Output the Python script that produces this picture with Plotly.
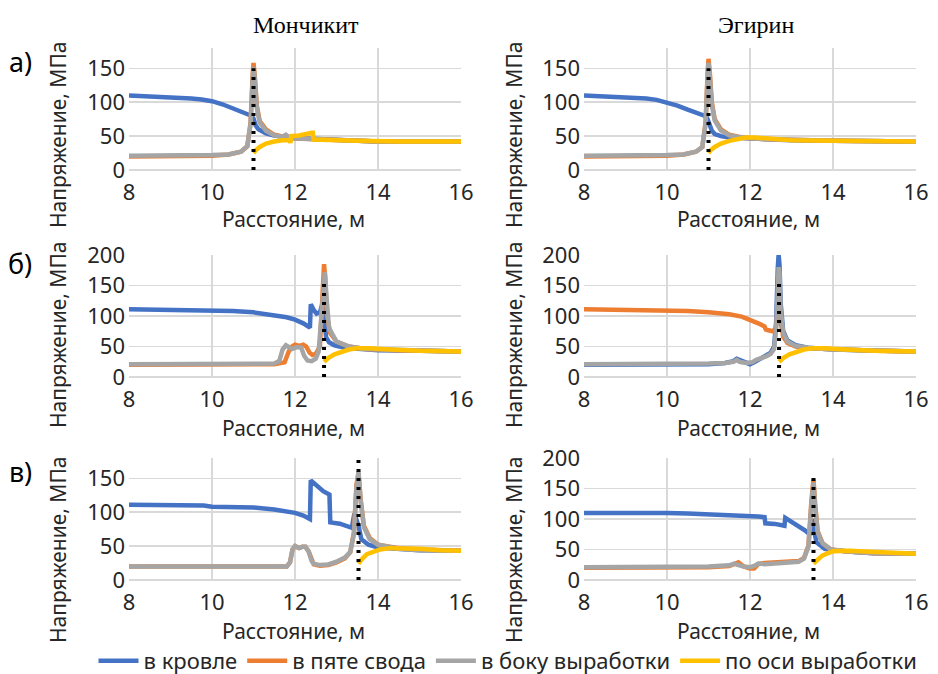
import plotly.graph_objects as go

W, H = 938, 674

SERIES = ["в кровле", "в пяте свода", "в боку выработки", "по оси выработки"]
COLORS = ["#4472C4", "#ED7D31", "#A5A5A5", "#FFC000"]
COL_TITLES = ["Мончикит", "Эгирин"]
ROW_LABELS = ["а)", "б)", "в)"]
X_TITLE = "Расстояние, м"
Y_TITLE = "Напряжение, МПа"
X_TICKS = [8, 10, 12, 14, 16]

# ---------------- row а), Мончикит ----------------
A_MON_BLUE_X = [8, 8.5, 9, 9.5, 9.75, 10.0, 10.25, 10.5, 10.75, 10.95, 11.0, 11.05, 11.12, 11.3, 11.5, 11.7, 12.0, 12.4, 12.9, 13.5, 14, 15, 16]
A_MON_BLUE_Y = [110, 109, 107.5, 105.5, 104, 101.5, 97, 91, 85, 80, 76, 66, 60, 54, 51, 49, 47, 46, 45, 43, 42, 42, 42]
A_MON_ORANGE_X = [8, 9, 10, 10.4, 10.7, 10.85, 10.93, 10.98, 11.0, 11.03, 11.08, 11.15, 11.3, 11.5, 11.8, 12.2, 13, 14, 16]
A_MON_ORANGE_Y = [20, 20, 21, 23, 27, 35, 70, 140, 158, 140, 95, 72, 60, 52, 48, 46, 44, 42, 42]
A_MON_GRAY_X = [8, 9, 10, 10.4, 10.7, 10.85, 10.93, 10.98, 11.0, 11.03, 11.08, 11.15, 11.3, 11.5, 11.7, 11.78, 11.88, 12.2, 13, 14, 16]
A_MON_GRAY_Y = [21, 21, 22, 23, 27, 35, 68, 135, 152, 135, 92, 70, 58, 51, 49, 52, 47, 46, 44, 42, 42]
A_MON_YELLOW_X = [11.0, 11.05, 11.15, 11.3, 11.5, 11.7, 11.87, 11.89, 11.91, 12.1, 12.4, 12.43, 12.45, 12.8, 13.5, 14.5, 16]
A_MON_YELLOW_Y = [25, 29, 34, 39, 42, 44, 44, 40, 50, 51, 55, 55, 45, 44, 43, 42, 42]

# ---------------- row а), Эгирин ----------------
A_EGI_BLUE_X = [8, 8.5, 9, 9.5, 9.75, 10.0, 10.25, 10.5, 10.75, 10.95, 11.02, 11.08, 11.15, 11.3, 11.5, 11.8, 12.2, 13, 14, 16]
A_EGI_BLUE_Y = [110, 109, 107.5, 105.5, 103.5, 100, 95, 89, 83, 79, 68, 58, 53, 50, 48, 47, 46, 44, 43, 42]
A_EGI_ORANGE_X = [8, 9, 10, 10.4, 10.7, 10.85, 10.93, 10.98, 11.0, 11.03, 11.08, 11.15, 11.3, 11.5, 11.8, 12.2, 13, 14, 16]
A_EGI_ORANGE_Y = [20, 20, 21, 23, 27, 34, 70, 145, 164, 145, 100, 75, 60, 52, 48, 46, 44, 43, 42]
A_EGI_GRAY_X = [8, 9, 10, 10.4, 10.7, 10.85, 10.93, 10.98, 11.0, 11.03, 11.08, 11.15, 11.3, 11.5, 11.8, 12.2, 13, 14, 16]
A_EGI_GRAY_Y = [21, 21, 22, 23, 27, 34, 68, 140, 158, 140, 96, 73, 58, 51, 48, 46, 44, 43, 42]
A_EGI_YELLOW_X = [11.0, 11.05, 11.15, 11.3, 11.5, 11.7, 11.9, 12.1, 12.5, 13, 14, 16]
A_EGI_YELLOW_Y = [25, 29, 34, 39, 43, 46, 48, 48, 46, 44, 43, 42]

# ---------------- row б), Мончикит ----------------
B_MON_BLUE_X = [8, 9, 10, 10.5, 11, 11.5, 11.8, 12.0, 12.2, 12.36, 12.38, 12.45, 12.52, 12.6, 12.66, 12.7, 12.75, 12.82, 12.95, 13.2, 13.6, 14, 15, 16]
B_MON_BLUE_Y = [111, 110, 109, 108, 106, 102, 98, 94, 88, 81, 119, 110, 104, 106, 120, 100, 65, 57, 52, 48, 46, 44, 43, 42]
B_MON_ORANGE_X = [8, 9, 10, 11, 11.5, 11.75, 11.85, 11.93, 12.0, 12.1, 12.2, 12.27, 12.35, 12.42, 12.5, 12.6, 12.65, 12.7, 12.73, 12.77, 12.85, 13.0, 13.3, 13.7, 14.5, 16]
B_MON_ORANGE_Y = [20, 20, 20, 20, 21, 24, 42, 50, 53, 51, 53, 50, 40, 36, 38, 50, 120, 185, 160, 100, 72, 58, 50, 46, 44, 42]
B_MON_GRAY_X = [8, 9, 10, 11, 11.5, 11.62, 11.7, 11.78, 11.85, 11.93, 12.05, 12.15, 12.22, 12.3, 12.4, 12.5, 12.57, 12.63, 12.68, 12.72, 12.76, 12.82, 13.0, 13.3, 13.7, 14.5, 16]
B_MON_GRAY_Y = [21, 21, 21, 21, 22, 26, 45, 52, 50, 46, 49, 48, 35, 27, 26, 30, 42, 90, 150, 172, 130, 80, 58, 50, 46, 44, 42]
B_MON_YELLOW_X = [12.7, 12.8, 12.95, 13.1, 13.3, 13.5, 13.8, 14.3, 15, 16]
B_MON_YELLOW_Y = [25, 31, 37, 41, 45, 47, 47, 45, 43, 42]

# ---------------- row б), Эгирин ----------------
B_EGI_BLUE_X = [8, 9, 10, 11, 11.4, 11.6, 11.68, 11.75, 11.85, 12.0, 12.1, 12.25, 12.4, 12.5, 12.58, 12.63, 12.67, 12.69, 12.71, 12.74, 12.8, 12.9, 13.1, 13.4, 14, 15, 16]
B_EGI_BLUE_Y = [20, 20, 20, 21, 23, 26, 30, 28, 27, 21, 24, 30, 35, 40, 50, 90, 180, 200, 185, 120, 75, 60, 52, 48, 45, 43, 42]
B_EGI_ORANGE_X = [8, 9, 9.5, 10, 10.5, 11, 11.5, 11.8, 12.0, 12.2, 12.35, 12.38, 12.42, 12.55, 12.62, 12.66, 12.7, 12.74, 12.8, 12.9, 13.1, 13.4, 14, 15, 16]
B_EGI_ORANGE_Y = [111, 110, 110, 109, 108, 106, 103, 99, 94, 88, 83, 78, 77, 75, 80, 100, 120, 90, 66, 56, 50, 47, 45, 43, 42]
B_EGI_GRAY_X = [8, 9, 10, 11, 11.4, 11.6, 11.68, 11.75, 11.9, 12.05, 12.15, 12.25, 12.4, 12.5, 12.58, 12.63, 12.67, 12.69, 12.71, 12.74, 12.8, 12.9, 13.1, 13.4, 14, 15, 16]
B_EGI_GRAY_Y = [21, 21, 21, 22, 23, 25, 28, 25, 23, 24, 28, 30, 34, 38, 46, 80, 160, 180, 170, 110, 72, 58, 51, 48, 45, 43, 42]
B_EGI_YELLOW_X = [12.7, 12.8, 12.95, 13.1, 13.3, 13.5, 13.8, 14.3, 15, 16]
B_EGI_YELLOW_Y = [25, 31, 37, 41, 45, 47, 47, 45, 43, 42]

# ---------------- row в), Мончикит ----------------
V_MON_BLUE_X = [8, 9, 9.8, 10, 10.5, 11, 11.5, 12, 12.2, 12.36, 12.38, 12.45, 12.6, 12.68, 12.83, 12.85, 13.08, 13.25, 13.37, 13.43, 13.48, 13.53, 13.6, 13.77, 14.0, 14.5, 15, 16]
V_MON_BLUE_Y = [111, 110, 110, 108, 108, 107, 104, 99, 95, 90, 147, 143, 135, 131, 126, 85, 83, 80, 77, 98, 90, 80, 60, 52, 48, 46, 44, 43]
V_MON_ORANGE_X = [8, 9, 10, 11, 11.5, 11.8, 11.88, 11.94, 12.0, 12.1, 12.18, 12.25, 12.33, 12.4, 12.45, 12.6, 12.8, 13.0, 13.2, 13.33, 13.42, 13.48, 13.53, 13.58, 13.66, 13.8, 14.0, 14.5, 15, 16]
V_MON_ORANGE_Y = [20, 20, 20, 19, 19, 20, 26, 45, 50, 47, 49, 49, 42, 28, 23, 21, 22, 26, 32, 41, 70, 140, 158, 120, 80, 62, 52, 47, 45, 43]
V_MON_GRAY_X = [8, 9, 10, 11, 11.5, 11.8, 11.88, 11.94, 12.0, 12.1, 12.18, 12.25, 12.33, 12.4, 12.45, 12.6, 12.8, 13.0, 13.2, 13.33, 13.42, 13.48, 13.53, 13.58, 13.66, 13.8, 14.0, 14.5, 15, 16]
V_MON_GRAY_Y = [20, 20, 20, 19, 19, 20, 26, 45, 50, 47, 49, 49, 42, 28, 24, 22, 23, 27, 33, 41, 68, 135, 160, 118, 78, 60, 52, 46, 44, 43]
V_MON_YELLOW_X = [13.53, 13.6, 13.73, 13.9, 14.05, 14.3, 14.53, 15.0, 15.5, 16]
V_MON_YELLOW_Y = [24, 30, 38, 42, 45, 47, 47, 46, 44, 43]

# ---------------- row в), Эгирин ----------------
V_EGI_BLUE_X = [8, 9, 9.5, 10, 10.5, 11, 11.5, 12, 12.2, 12.35, 12.37, 12.6, 12.83, 12.85, 13.0, 13.2, 13.33, 13.45, 13.5, 13.55, 13.6, 13.8, 14.0, 14.5, 15, 16]
V_EGI_BLUE_Y = [110, 110, 111, 110, 109, 108, 107, 106, 104, 103, 93, 92, 89, 102, 96, 88, 81, 74, 100, 80, 62, 51, 49, 46, 44, 43]
V_EGI_ORANGE_X = [8, 9, 10, 11, 11.5, 11.65, 11.72, 11.85, 12.0, 12.1, 12.2, 12.35, 12.6, 12.9, 13.17, 13.3, 13.41, 13.48, 13.53, 13.57, 13.63, 13.75, 13.95, 14.3, 15, 16]
V_EGI_ORANGE_Y = [20, 20, 20, 21, 23, 27, 29, 22, 19, 19, 26, 28, 29, 30, 31, 36, 57, 130, 165, 125, 80, 60, 50, 47, 44, 43]
V_EGI_GRAY_X = [8, 9, 10, 11, 11.5, 11.62, 11.7, 11.85, 12.0, 12.1, 12.2, 12.35, 12.6, 12.9, 13.17, 13.3, 13.41, 13.48, 13.53, 13.57, 13.63, 13.75, 13.95, 14.3, 15, 16]
V_EGI_GRAY_Y = [21, 21, 21, 22, 24, 27, 25, 22, 21, 23, 27, 26, 27, 28, 30, 35, 55, 125, 160, 120, 78, 60, 50, 47, 44, 43]
V_EGI_YELLOW_X = [13.53, 13.6, 13.74, 13.88, 14.0, 14.38, 14.87, 15.5, 16]
V_EGI_YELLOW_Y = [27, 32, 40, 44, 47, 48, 46, 44, 43]

# boundary marks (dotted vertical lines): x position and top value
MARK_X = [11.0, 11.0, 12.7, 12.7, 13.53, 13.53]
MARK_TOP = [150, 150, 155, 155, 178, 176]
Y_MAX = [180, 180, 200, 200, 180, 200]

PANELS = [
    [(A_MON_BLUE_X, A_MON_BLUE_Y), (A_MON_ORANGE_X, A_MON_ORANGE_Y), (A_MON_GRAY_X, A_MON_GRAY_Y), (A_MON_YELLOW_X, A_MON_YELLOW_Y)],
    [(A_EGI_BLUE_X, A_EGI_BLUE_Y), (A_EGI_ORANGE_X, A_EGI_ORANGE_Y), (A_EGI_GRAY_X, A_EGI_GRAY_Y), (A_EGI_YELLOW_X, A_EGI_YELLOW_Y)],
    [(B_MON_BLUE_X, B_MON_BLUE_Y), (B_MON_ORANGE_X, B_MON_ORANGE_Y), (B_MON_GRAY_X, B_MON_GRAY_Y), (B_MON_YELLOW_X, B_MON_YELLOW_Y)],
    [(B_EGI_BLUE_X, B_EGI_BLUE_Y), (B_EGI_ORANGE_X, B_EGI_ORANGE_Y), (B_EGI_GRAY_X, B_EGI_GRAY_Y), (B_EGI_YELLOW_X, B_EGI_YELLOW_Y)],
    [(V_MON_BLUE_X, V_MON_BLUE_Y), (V_MON_ORANGE_X, V_MON_ORANGE_Y), (V_MON_GRAY_X, V_MON_GRAY_Y), (V_MON_YELLOW_X, V_MON_YELLOW_Y)],
    [(V_EGI_BLUE_X, V_EGI_BLUE_Y), (V_EGI_ORANGE_X, V_EGI_ORANGE_Y), (V_EGI_GRAY_X, V_EGI_GRAY_Y), (V_EGI_YELLOW_X, V_EGI_YELLOW_Y)],
]

# ---------------- layout geometry (pixels) ----------------
COL_X = [(129, 461), (584, 916)]
ROW_Y = [(48, 170), (255, 377), (458, 580)]

SANS = "Noto Sans"
SERIF = "Liberation Serif"
TXT = "#262626"
GRID = "#d9d9d9"


def px(x):
    return x / W


def py(y):
    return 1 - y / H


fig = go.Figure()
layout = {}
for i, panel in enumerate(PANELS):
    r, c = divmod(i, 2)
    n = "" if i == 0 else str(i + 1)
    xa, ya = "x" + n, "y" + n
    for k, (xs, ys) in enumerate(panel):
        fig.add_trace(go.Scatter(
            x=xs, y=ys, mode="lines", name=SERIES[k],
            line=dict(color=COLORS[k], width=4.5),
            xaxis=xa, yaxis=ya, legendgroup=SERIES[k], showlegend=(i == 0),
            hoverinfo="skip"))
    fig.add_trace(go.Scatter(
        x=[MARK_X[i], MARK_X[i]], y=[0, MARK_TOP[i]], mode="lines",
        line=dict(color="black", width=4, dash="3px,6px"),
        xaxis=xa, yaxis=ya, showlegend=False, hoverinfo="skip"))
    layout["xaxis" + n] = dict(
        domain=[px(COL_X[c][0]), px(COL_X[c][1])], anchor=ya,
        range=[8, 16], tickvals=X_TICKS, showgrid=True, gridcolor=GRID, gridwidth=1.5,
        zeroline=False, showline=False, ticks="", ticklabelstandoff=7,
        tickfont=dict(family=SANS, size=22, color=TXT))
    ytv = list(range(0, Y_MAX[i] + 1, 50))
    layout["yaxis" + n] = dict(
        domain=[py(ROW_Y[r][1]), py(ROW_Y[r][0])], anchor=xa,
        range=[0, Y_MAX[i]], tickvals=ytv, showgrid=True, gridcolor=GRID, gridwidth=1.5,
        zeroline=True, zerolinecolor=GRID, zerolinewidth=1.5, showline=False, ticks="",
        ticklabelstandoff=3,
        tickfont=dict(family=SANS, size=22, color=TXT))

annotations = []
# column titles
for c, t in enumerate(COL_TITLES):
    annotations.append(dict(text=t, x=px([306, 756][c]), y=py(25), xref="paper", yref="paper",
                            showarrow=False, font=dict(family=SERIF, size=24, color="black"),
                            xanchor="center", yanchor="middle"))
# row labels
for r, t in enumerate(ROW_LABELS):
    annotations.append(dict(text=t, x=px(20), y=py([62, 263, 471][r]), xref="paper", yref="paper",
                            showarrow=False, font=dict(family=SANS, size=27, color="black"),
                            xanchor="center", yanchor="middle"))
# axis titles
for r in range(3):
    for c in range(2):
        annotations.append(dict(text=X_TITLE, x=px((COL_X[c][0] + COL_X[c][1]) / 2 - 2),
                                y=py([219, 428, 631][r]), xref="paper", yref="paper",
                                showarrow=False, font=dict(family=SANS, size=21, color=TXT),
                                xanchor="center", yanchor="middle"))
        annotations.append(dict(text=Y_TITLE, x=px([58, 514][c]), y=py([135, 335, 550][r]),
                                xref="paper", yref="paper", textangle=-90,
                                showarrow=False, font=dict(family=SANS, size=21, color=TXT),
                                xanchor="center", yanchor="middle"))

fig.update_layout(
    width=W, height=H, margin=dict(l=0, r=0, t=0, b=0, autoexpand=False),
    paper_bgcolor="white", plot_bgcolor="white",
    annotations=annotations,
    legend=dict(orientation="h", x=px(508), xanchor="center", y=py(661), yanchor="middle",
                font=dict(family=SANS, size=22, color=TXT), itemwidth=40,
                tracegroupgap=0, bgcolor="rgba(0,0,0,0)"),
    **layout,
)

fig.write_html("out.html", config={"displayModeBar": False, "staticPlot": True},
               post_script="document.body.style.margin='0';document.body.style.overflow='hidden';")
